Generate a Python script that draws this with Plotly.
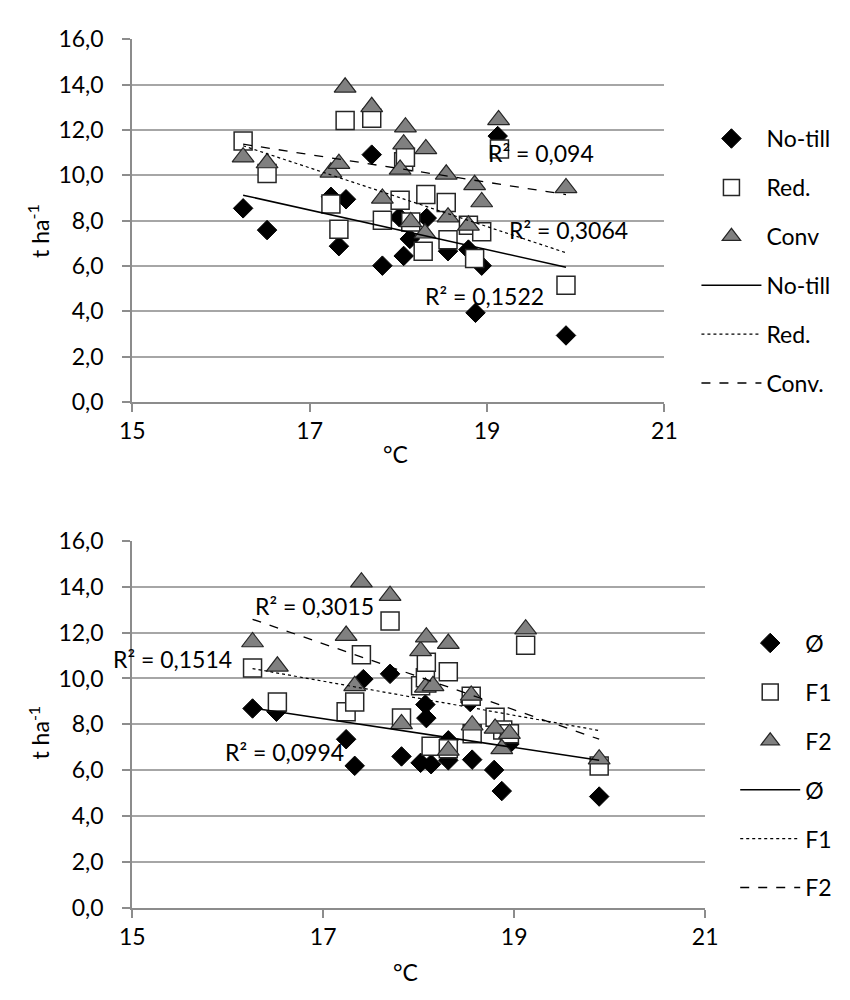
import plotly.graph_objects as go

# ---------------- data: top chart (tillage) ----------------
notill_x = [16.25, 16.52, 17.24, 17.41, 17.33, 17.70, 17.82, 18.01, 18.06, 18.13, 18.32, 18.56, 18.79, 18.87, 18.94, 19.12, 19.89]
notill_y = [8.54, 7.58, 9.05, 8.94, 6.87, 10.91, 6.01, 8.15, 6.44, 7.19, 8.11, 6.65, 6.72, 3.93, 6.01, 11.73, 2.93]

red_x = [16.25, 16.52, 17.24, 17.33, 17.40, 17.70, 17.82, 18.02, 18.06, 18.08, 18.14, 18.28, 18.31, 18.54, 18.56, 18.79, 18.86, 18.94, 19.14, 19.89]
red_y = [11.51, 10.08, 8.73, 7.62, 12.42, 12.52, 8.01, 8.90, 10.60, 10.80, 7.94, 6.65, 9.15, 8.80, 7.15, 7.79, 6.33, 7.51, 11.16, 5.15]

conv_x = [16.25, 16.52, 17.24, 17.33, 17.40, 17.70, 17.82, 18.02, 18.06, 18.08, 18.14, 18.30, 18.31, 18.54, 18.56, 18.79, 18.86, 18.94, 19.13, 19.89]
conv_y = [10.80, 10.54, 10.13, 10.51, 13.88, 13.02, 8.98, 10.26, 11.37, 12.12, 7.94, 7.44, 11.16, 10.04, 8.15, 7.79, 9.58, 8.82, 12.44, 9.44]

top_trend_x = [16.25, 19.89]
notill_trend_y = [9.12, 5.94]
red_trend_y = [11.30, 6.58]
conv_trend_y = [11.37, 9.15]

top_r2_text = ["R\u00b2 = 0,094", "R\u00b2 = 0,3064", "R\u00b2 = 0,1522"]
top_r2_x = [18.99, 19.23, 18.28]
top_r2_y = [11.0, 7.57, 4.65]
top_r2_anchor = ["left", "left", "left"]

# ---------------- data: bottom chart (fertilisation) ----------------
phi_x = [16.26, 16.51, 17.24, 17.33, 17.42, 17.70, 17.82, 18.02, 18.07, 18.08, 18.13, 18.31, 18.31, 18.54, 18.56, 18.79, 18.87, 18.95, 19.89]
phi_y = [8.69, 8.55, 7.35, 6.19, 9.97, 10.20, 6.60, 6.32, 8.86, 8.27, 6.26, 6.43, 7.30, 8.97, 6.46, 6.01, 5.09, 7.14, 4.85]

f1_x = [16.26, 16.52, 17.24, 17.33, 17.40, 17.70, 17.82, 18.02, 18.07, 18.08, 18.13, 18.31, 18.31, 18.55, 18.56, 18.80, 18.88, 18.95, 19.12, 19.89]
f1_y = [10.46, 8.97, 8.55, 8.97, 11.03, 12.51, 8.27, 9.68, 10.03, 10.71, 7.04, 10.29, 6.93, 9.22, 7.59, 8.31, 7.75, 7.59, 11.45, 6.18]

f2_x = [16.26, 16.52, 17.24, 17.33, 17.40, 17.70, 17.82, 18.02, 18.07, 18.08, 18.15, 18.31, 18.31, 18.55, 18.56, 18.80, 18.87, 18.95, 19.12, 19.89]
f2_y = [11.59, 10.53, 11.87, 9.68, 14.20, 13.61, 8.02, 11.20, 9.61, 11.80, 9.68, 11.52, 6.86, 9.26, 7.96, 7.82, 6.93, 7.59, 12.15, 6.48]

bot_trend_x = [16.26, 19.89]
phi_trend_y = [8.71, 6.43]
f1_trend_y = [10.43, 7.73]
f2_trend_y = [12.58, 7.35]

bot_r2_text = ["R\u00b2 = 0,3015", "R\u00b2 = 0,1514", "R\u00b2 = 0,0994"]
bot_r2_x = [16.26, 16.07, 15.95]
bot_r2_y = [13.16, 10.83, 6.80]
bot_r2_anchor = ["left", "right", "left"]

x_ticks = [15, 17, 19, 21]
y_ticks = [0, 2, 4, 6, 8, 10, 12, 14, 16]

# ---------------- styling ----------------
FONT = "Lato"
FS = 23
AXIS_COL = "#8c8c8c"
GRID_COL = "#a6a6a6"

diamond = dict(symbol="diamond", size=15, color="black", line=dict(color="black", width=1))
square = dict(symbol="square", size=18, color="white", line=dict(color="#262626", width=1.5))
triangle = dict(symbol="triangle-up", size=19, color="#808080", line=dict(color="#262626", width=1.2))

fig = go.Figure()

def scatter(x, y, name, marker, xa, ya, leg, grp):
    fig.add_trace(go.Scatter(x=x, y=y, mode="markers", name=name, marker=marker,
                             xaxis=xa, yaxis=ya, legend=leg, legendgroup=grp))

def trend(x, y, name, dash, width, xa, ya, leg, grp):
    fig.add_trace(go.Scatter(x=x, y=y, mode="lines", name=name,
                             line=dict(color="black", dash=dash, width=width),
                             xaxis=xa, yaxis=ya, legend=leg, legendgroup=grp))

# top
scatter(notill_x, notill_y, "No-till", diamond, "x", "y", "legend", "a1")
scatter(red_x, red_y, "Red.", square, "x", "y", "legend", "a2")
scatter(conv_x, conv_y, "Conv", triangle, "x", "y", "legend", "a3")
trend(top_trend_x, notill_trend_y, "No-till", "solid", 1.5, "x", "y", "legend", "a4")
trend(top_trend_x, red_trend_y, "Red.", "dot", 1.2, "x", "y", "legend", "a5")
trend(top_trend_x, conv_trend_y, "Conv.", "dash", 1.3, "x", "y", "legend", "a6")

# bottom
scatter(phi_x, phi_y, "Ø", diamond, "x2", "y2", "legend2", "b1")
scatter(f1_x, f1_y, "F1", square, "x2", "y2", "legend2", "b2")
scatter(f2_x, f2_y, "F2", triangle, "x2", "y2", "legend2", "b3")
trend(bot_trend_x, phi_trend_y, "Ø", "solid", 1.5, "x2", "y2", "legend2", "b4")
trend(bot_trend_x, f1_trend_y, "F1", "dot", 1.2, "x2", "y2", "legend2", "b5")
trend(bot_trend_x, f2_trend_y, "F2", "dash", 1.3, "x2", "y2", "legend2", "b6")

xcommon = dict(range=[15, 21], tickvals=x_ticks, showgrid=False, zeroline=False,
               showline=True, linecolor=AXIS_COL, linewidth=2,
               ticks="outside", ticklen=8, tickwidth=2, tickcolor=AXIS_COL,
               tickfont=dict(family=FONT, size=FS, color="black"))
ycommon = dict(range=[0, 16], tickvals=y_ticks, tickformat=".1f", showgrid=True,
               gridcolor=GRID_COL, gridwidth=1.5, zeroline=False,
               showline=True, linecolor=AXIS_COL, linewidth=2,
               ticks="outside", ticklen=8, tickwidth=2, tickcolor=AXIS_COL,
               ticklabelstandoff=14,
               tickfont=dict(family=FONT, size=FS, color="black"))

W, H = 850, 1000
legcommon = dict(xanchor="left", yanchor="top", bgcolor="rgba(0,0,0,0)",
                 font=dict(family=FONT, size=FS, color="black"),
                 tracegroupgap=16, itemwidth=60)

txtfont = dict(family=FONT, size=FS, color="black")
annotations = []
for t, x, y, a in zip(top_r2_text, top_r2_x, top_r2_y, top_r2_anchor):
    annotations.append(dict(text=t, x=x, y=y, xref="x", yref="y", xanchor=a, yanchor="middle",
                            showarrow=False, font=txtfont))
for t, x, y, a in zip(bot_r2_text, bot_r2_x, bot_r2_y, bot_r2_anchor):
    annotations.append(dict(text=t, x=x, y=y, xref="x2", yref="y2", xanchor=a, yanchor="middle",
                            showarrow=False, font=txtfont))
# axis titles
annotations += [
    dict(text="°C", x=395 / W, y=1 - 452 / H, xref="paper", yref="paper", showarrow=False,
         xanchor="center", yanchor="middle", font=txtfont),
    dict(text="°C", x=405 / W, y=1 - 985 / H, xref="paper", yref="paper", showarrow=False,
         xanchor="center", yanchor="middle", font=txtfont),
    dict(text="t ha<sup>-1</sup>", x=27 / W, y=1 - 222 / H, xref="paper", yref="paper", showarrow=False,
         xanchor="center", yanchor="middle", textangle=-90, font=txtfont),
    dict(text="t ha<sup>-1</sup>", x=27 / W, y=1 - 738 / H, xref="paper", yref="paper", showarrow=False,
         xanchor="center", yanchor="middle", textangle=-90, font=txtfont),
]

fig.update_layout(
    width=W, height=H, margin=dict(l=0, r=0, t=0, b=0),
    paper_bgcolor="white", plot_bgcolor="white",
    separators=", ",
    font=dict(family=FONT, size=FS, color="black"),
    xaxis=dict(xcommon, domain=[123 / W, 672 / W], anchor="y"),
    yaxis=dict(ycommon, domain=[1 - 398 / H, 1 - 25 / H], anchor="x"),
    xaxis2=dict(xcommon, domain=[123 / W, 714 / W], anchor="y2"),
    yaxis2=dict(ycommon, domain=[1 - 918.5 / H, 1 - 541 / H], anchor="x2"),
    legend=dict(legcommon, x=705 / W, y=1 - 105 / H),
    legend2=dict(legcommon, x=745 / W, y=1 - 624 / H),
    annotations=annotations,
    showlegend=True,
)

fig.write_html("out.html")
